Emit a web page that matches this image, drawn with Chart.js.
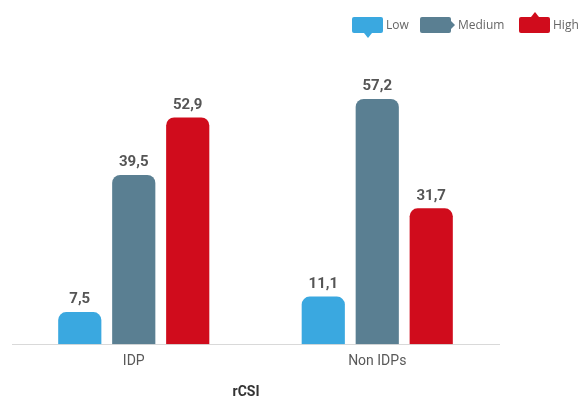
<!DOCTYPE html>
<html>
<head>
<meta charset="utf-8">
<script src="https://cdn.jsdelivr.net/npm/chart.js@4/dist/chart.umd.min.js"></script>
<style>
  html, body { margin: 0; padding: 0; background: #fff; }
  #wrap { width: 579px; height: 400px; }
</style>
</head>
<body>
<div id="wrap"><canvas id="rcsiChart" width="579" height="400"></canvas></div>
<script>
const categories = ['IDP', 'Non IDPs'];
const lowValues = [7.5, 11.1];
const mediumValues = [39.5, 57.2];
const highValues = [52.9, 31.7];
const seriesLabels = ['Low', 'Medium', 'High'];
const seriesColors = ['#3AA8E0', '#5A7F92', '#D00C1C'];
const axisTitle = 'rCSI';

const fmt = v => v.toFixed(1).replace('.', ',');

// value labels above each bar
const barValues = {
  id: 'barValues',
  afterDatasetsDraw(chart) {
    const ctx = chart.ctx;
    ctx.save();
    ctx.font = 'bold 15px Roboto';
    ctx.fillStyle = '#555555';
    ctx.textAlign = 'center';
    ctx.textBaseline = 'bottom';
    chart.data.datasets.forEach((ds, i) => {
      chart.getDatasetMeta(i).data.forEach((bar, j) => {
        ctx.fillText(fmt(ds.data[j]), bar.x, bar.y - 5);
      });
    });
    ctx.restore();
  }
};

// legend with little callout shapes, plus the axis caption
const calloutLegend = {
  id: 'calloutLegend',
  afterDraw(chart) {
    const ctx = chart.ctx;
    const starts = [352, 420, 519];
    const w = 31, h = 16, top = 17;
    ctx.save();
    chart.data.datasets.forEach((ds, i) => {
      const x = starts[i];
      ctx.fillStyle = ds.backgroundColor;
      ctx.beginPath();
      ctx.roundRect(x, top, w, h, 2);
      ctx.fill();
      ctx.beginPath();
      if (i === 0) {        // pointer down
        ctx.moveTo(x + 12, top + h);
        ctx.lineTo(x + 16, top + h + 5);
        ctx.lineTo(x + 20, top + h);
      } else if (i === 1) { // pointer right
        ctx.moveTo(x + w, top + 4);
        ctx.lineTo(x + w + 4, top + h / 2);
        ctx.lineTo(x + w, top + h - 4);
      } else {              // pointer up
        ctx.moveTo(x + 12, top);
        ctx.lineTo(x + 16, top - 5);
        ctx.lineTo(x + 20, top);
      }
      ctx.fill();
      ctx.fillStyle = '#666666';
      ctx.font = '12px "Open Sans"';
      ctx.textAlign = 'left';
      ctx.textBaseline = 'middle';
      ctx.fillText(ds.label, x + w + (i === 1 ? 7 : 3), top + h / 2 + 1);
    });
    ctx.fillStyle = '#333333';
    ctx.font = 'bold 14px Roboto';
    ctx.textAlign = 'center';
    ctx.textBaseline = 'middle';
    ctx.fillText(axisTitle, 246, 392);
    ctx.restore();
  }
};

new Chart(document.getElementById('rcsiChart'), {
  type: 'bar',
  data: {
    labels: categories,
    datasets: [lowValues, mediumValues, highValues].map((vals, i) => ({
      label: seriesLabels[i],
      data: vals,
      backgroundColor: seriesColors[i],
      borderRadius: 8,
      barPercentage: 0.8,
      categoryPercentage: 0.665
    }))
  },
  options: {
    responsive: false,
    animation: false,
    layout: { padding: { left: 12, right: 80, top: 87, bottom: 21 } },
    plugins: {
      legend: { display: false },
      tooltip: { enabled: false }
    },
    scales: {
      x: {
        grid: { display: false, drawTicks: false },
        border: { display: true, color: '#D9D9D9', width: 1 },
        ticks: { color: '#595959', font: { family: 'Roboto', size: 14 }, padding: 9 }
      },
      y: {
        display: false,
        min: 0,
        max: 60
      }
    }
  },
  plugins: [barValues, calloutLegend]
});
</script>
</body>
</html>
